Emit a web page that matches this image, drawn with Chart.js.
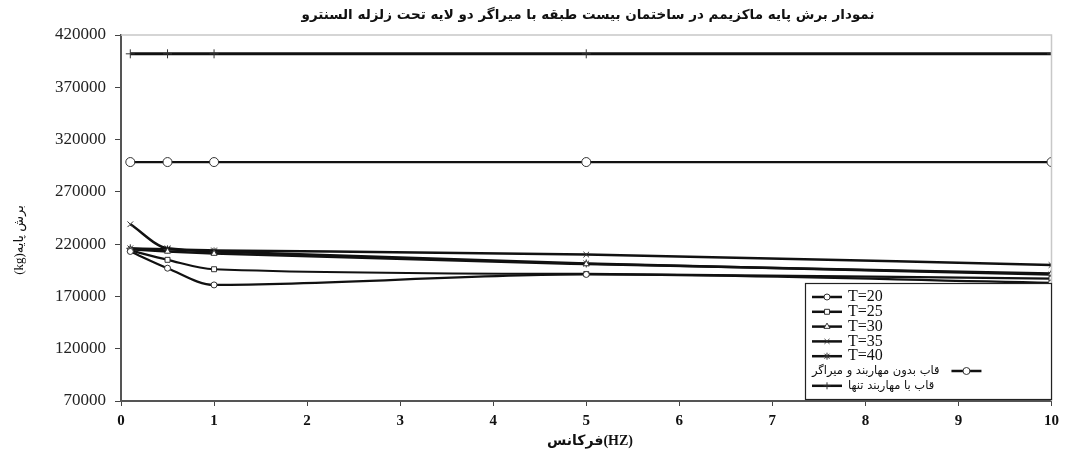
<!DOCTYPE html>
<html><head><meta charset="utf-8">
<script src="https://cdn.jsdelivr.net/npm/chart.js"></script>
<style>html,body{margin:0;padding:0;background:#fff;overflow:hidden;}</style>
</head><body>
<canvas id="c" width="1065" height="462"></canvas>
<script>
const chartTitle = 'نمودار برش پایه ماکزیمم در ساختمان بیست طبقه با میراگر دو لایه تحت زلزله السنترو';
const xAxisTitle = 'فرکانس(HZ)';
const yAxisTitle = 'برش پایه(kg)';
const frequencies = [0.1, 0.5, 1, 5, 10];
const seriesLabels = ['T=20', 'T=25', 'T=30', 'T=35', 'T=40', 'قاب بدون مهاربند و میراگر', 'قاب با مهاربند تنها'];
const t20 = [213000, 197000, 181000, 191000, 183000];
const t25 = [214000, 205000, 196000, 191500, 187000];
const t30 = [215000, 213000, 211000, 201000, 192000];
const t35 = [239000, 216000, 214000, 210000, 200000];
const t40 = [216000, 215000, 213000, 201500, 191000];
const unbracedUndamped = [298500, 298500, 298500, 298500, 298500];
const bracedOnly = [402000, 402000, 402000, 402000, 402000];
const xTickValues = [0, 1, 2, 3, 4, 5, 6, 7, 8, 9, 10];
const yTickValues = [70000, 120000, 170000, 220000, 270000, 320000, 370000, 420000];

const seriesValues = [t20, t25, t30, t35, t40, unbracedUndamped, bracedOnly];
const markerStyles = ['circle', 'rect', 'triangle', 'crossRot', 'star', 'circle', 'cross'];
const markerSizes = [3, 3.5, 3.5, 4, 4, 4.5, 4.5];
const lineWidths = [2.2, 2.2, 2.5, 2.5, 2.5, 2.2, 3];

const datasets = seriesValues.map((vals, i) => ({
  label: seriesLabels[i],
  data: vals.map((v, j) => ({x: frequencies[j], y: v})),
  borderColor: '#111',
  backgroundColor: '#fff',
  borderWidth: lineWidths[i],
  pointStyle: markerStyles[i],
  pointRadius: markerSizes[i],
  pointBorderWidth: 1,
  pointBorderColor: '#333',
  pointBackgroundColor: '#fff',
  tension: 0.3,
  cubicInterpolationMode: 'monotone',
  fill: false
}));

function drawMarker(ctx, style, r, x, y) {
  if (Chart.helpers && Chart.helpers.drawPoint) {
    ctx.save();
    ctx.fillStyle = '#fff'; ctx.strokeStyle = '#333'; ctx.lineWidth = 1;
    Chart.helpers.drawPoint(ctx, {pointStyle: style, radius: r, rotation: 0, borderWidth: 1}, x, y);
    ctx.restore();
  }
}

const customPlugin = {
  id: 'custom',
  afterDraw(chart) {
    const ctx = chart.ctx;
    const a = chart.chartArea;
    ctx.save();
    ctx.strokeStyle = '#c8c8c8'; ctx.lineWidth = 1.5;
    ctx.beginPath(); ctx.moveTo(a.left, a.top); ctx.lineTo(a.right, a.top); ctx.lineTo(a.right, a.bottom); ctx.stroke();
    ctx.fillStyle = '#111';
    ctx.font = 'bold 13.5px "DejaVu Sans"';
    ctx.textAlign = 'center'; ctx.textBaseline = 'middle'; ctx.direction = 'rtl';
    ctx.fillText(chartTitle, 588, 15);
    ctx.direction = 'ltr';
    ctx.font = 'bold 14px "Liberation Serif", "DejaVu Sans"';
    ctx.fillText(xAxisTitle, 590, 441);
    ctx.save();
    ctx.translate(20, 240); ctx.rotate(-Math.PI / 2);
    ctx.direction = 'rtl';
    ctx.font = '13px "Liberation Serif", "DejaVu Sans"';
    ctx.fillText(yAxisTitle, 0, 0);
    ctx.restore();
    const L = 805, T = 283, R = 1052, B = 400;
    ctx.fillStyle = '#fff';
    ctx.fillRect(L, T, R - L, B - T);
    ctx.strokeStyle = '#222'; ctx.lineWidth = 1.2;
    ctx.strokeRect(L + 0.5, T + 0.5, R - L - 1, B - T - 1);
    const rowH = 14.8;
    chart.data.datasets.forEach((ds, i) => {
      const y = T + 14 + i * rowH;
      let sx = 812, tx = 848;
      ctx.font = '16px "Liberation Serif", "DejaVu Sans"';
      ctx.direction = 'ltr';
      ctx.textAlign = 'left';
      ctx.fillStyle = '#111';
      if (i === 5) {
        ctx.font = '11.5px "DejaVu Sans"';
        ctx.direction = 'rtl';
        const w = ctx.measureText(ds.label).width;
        tx = 812; sx = 812 + w + 12;
        ctx.fillText(ds.label, tx, y);
      } else if (i === 6) {
        ctx.font = '11.5px "DejaVu Sans"';
        ctx.direction = 'rtl';
        ctx.fillText(ds.label, tx, y);
      } else {
        ctx.fillText(ds.label, tx, y);
      }
      ctx.strokeStyle = '#111'; ctx.lineWidth = 2.5;
      ctx.beginPath(); ctx.moveTo(sx, y); ctx.lineTo(sx + 30, y); ctx.stroke();
      drawMarker(ctx, ds.pointStyle, Math.min(ds.pointRadius, 3.5), sx + 15, y);
    });
    ctx.restore();
  }
};

new Chart(document.getElementById('c'), {
  type: 'line',
  data: {datasets},
  options: {
    responsive: false,
    animation: false,
    devicePixelRatio: 1,
    layout: {padding: {left: 0, right: 13, top: 35, bottom: 0}},
    plugins: {legend: {display: false}, title: {display: false}, tooltip: {enabled: false}},
    scales: {
      x: {
        type: 'linear', min: 0, max: 10,
        afterFit: s => { s.height = 61; },
        afterBuildTicks: s => { s.ticks = xTickValues.map(v => ({value: v})); },
        ticks: {color: '#111', font: {family: 'Liberation Serif', size: 15, weight: 'bold'}, padding: 6, maxRotation: 0,
          callback: v => String(v)},
        grid: {display: true, drawOnChartArea: false, drawTicks: true, tickLength: 5, color: '#444', lineWidth: 1},
        border: {display: true, color: '#555', width: 2}
      },
      y: {
        type: 'linear', min: 70000, max: 420000,
        afterFit: s => { s.width = 121; },
        afterBuildTicks: s => { s.ticks = yTickValues.map(v => ({value: v})); },
        ticks: {color: '#222', font: {family: 'Liberation Serif', size: 17}, padding: 9,
          callback: v => String(v)},
        grid: {display: true, drawOnChartArea: false, drawTicks: true, tickLength: 6, color: '#444', lineWidth: 1},
        border: {display: true, color: '#555', width: 2}
      }
    }
  },
  plugins: [customPlugin]
});
</script>
</body></html>
